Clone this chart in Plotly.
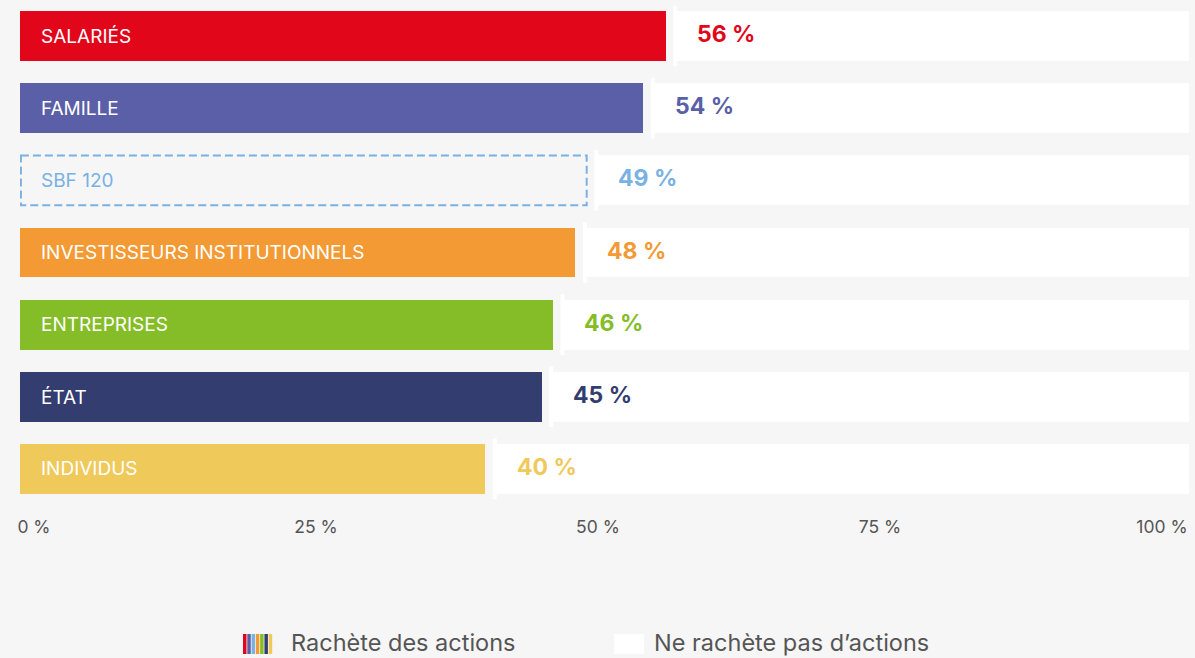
import plotly.graph_objects as go

categories = ["SALARIÉS", "FAMILLE", "SBF 120", "INVESTISSEURS INSTITUTIONNELS",
              "ENTREPRISES", "ÉTAT", "INDIVIDUS"]
values = [56, 54, 49, 48, 46, 45, 40]
bar_colors = ["#E2061B", "#5A5FA8", "#7AB1E3", "#F39A34", "#84BD27", "#333D70", "#F0C95B"]
tick_vals = [0, 25, 50, 75, 100]
tick_text = ["0 %", "25 %", "50 %", "75 %", "100 %"]
legend_names = ["Rachète des actions", "Ne rachète pas d’actions"]

BG = "#F6F6F6"
FONT = "Inter"
X_MIN, X_MAX = -1.24, 102.4   # bars start a little left of the 0 tick, white part runs to the edge
GAP = 0.85                     # space between the coloured part and the white remainder
BAR_W = 0.69
W, H = 1195, 658
ML, MR, MT, MB = 20, 6, 0, 153

def px_x(px):
    return (px - ML) / (W - ML - MR)

def px_y(py):
    return (H - MB - py) / (H - MT - MB)

dashed = [c == "SBF 120" for c in categories]

fig = go.Figure()

# coloured part (SBF 120 only outlined)
fig.add_trace(go.Bar(
    y=categories, x=[v - X_MIN for v in values], base=X_MIN, orientation="h", width=BAR_W,
    marker=dict(color=[BG if d else c for c, d in zip(bar_colors, dashed)], line=dict(width=0)),
    hoverinfo="skip", showlegend=False,
))

# white remainder
fig.add_trace(go.Bar(
    y=categories, x=[X_MAX - v - GAP for v in values], base=[v + GAP for v in values],
    orientation="h", width=BAR_W,
    marker=dict(color="white", line=dict(width=0)),
    hoverinfo="skip", showlegend=False,
))

shapes = []
annotations = []
for i, (cat, v, col, d) in enumerate(zip(categories, values, bar_colors, dashed)):
    if d:
        shapes.append(dict(type="rect", xref="x", yref="y", x0=X_MIN + 0.08, x1=v,
                           y0=i - BAR_W / 2, y1=i + BAR_W / 2,
                           line=dict(color=col, width=2, dash="8px,4px"), fillcolor="rgba(0,0,0,0)"))
    # white separator tick, a bit taller than the bar
    shapes.append(dict(type="line", xref="x", yref="y", x0=v + GAP, x1=v + GAP,
                       y0=i - 0.42, y1=i + 0.42, line=dict(color="white", width=4)))
    annotations.append(dict(x=X_MIN, y=cat, xref="x", yref="y", xanchor="left", xshift=19,
                            text=cat, showarrow=False,
                            font=dict(family=FONT, size=19, color=col if d else "white")))
    annotations.append(dict(x=v + GAP, y=cat, xref="x", yref="y", xanchor="left", xshift=20,
                            yshift=2, text=f"<b>{v} %</b>", showarrow=False,
                            font=dict(family=FONT, size=23, color=col)))

# custom legend: striped swatch + white swatch
n = len(bar_colors)
x0, x1 = 243, 273
sw = (x1 - x0) / n
for k, c in enumerate(bar_colors):
    shapes.append(dict(type="rect", xref="paper", yref="paper",
                       x0=px_x(x0 + k * sw), x1=px_x(x0 + (k + 1) * sw - 0.8),
                       y0=px_y(654), y1=px_y(634), line=dict(width=0), fillcolor=c))
shapes.append(dict(type="rect", xref="paper", yref="paper",
                   x0=px_x(614), x1=px_x(644), y0=px_y(654), y1=px_y(634),
                   line=dict(width=0), fillcolor="white"))
annotations.append(dict(x=px_x(289), y=px_y(642), xref="paper", yref="paper",
                        xanchor="left", yanchor="middle", text=legend_names[0], showarrow=False,
                        font=dict(family=FONT, size=23.5, color="#555555")))
annotations.append(dict(x=px_x(652), y=px_y(642), xref="paper", yref="paper",
                        xanchor="left", yanchor="middle", text=legend_names[1], showarrow=False,
                        font=dict(family=FONT, size=23.5, color="#555555")))

fig.update_layout(
    width=W, height=H,
    margin=dict(l=ML, r=MR, t=MT, b=MB),
    paper_bgcolor=BG, plot_bgcolor=BG,
    barmode="overlay",
    bargap=0,
    shapes=shapes,
    annotations=annotations,
    showlegend=False,
    xaxis=dict(range=[X_MIN, X_MAX], tickvals=tick_vals, ticktext=tick_text,
               showgrid=False, zeroline=False, showline=False, ticks="",
               ticklabelstandoff=9,
               tickfont=dict(family=FONT, size=17.5, color="#555555"), fixedrange=True),
    yaxis=dict(categoryorder="array", categoryarray=categories, autorange="reversed",
               showticklabels=False, showgrid=False, zeroline=False, ticks="", fixedrange=True),
)

fig.write_html("out.html", config={"displayModeBar": False},
               post_script="document.body.style.margin='0';")
